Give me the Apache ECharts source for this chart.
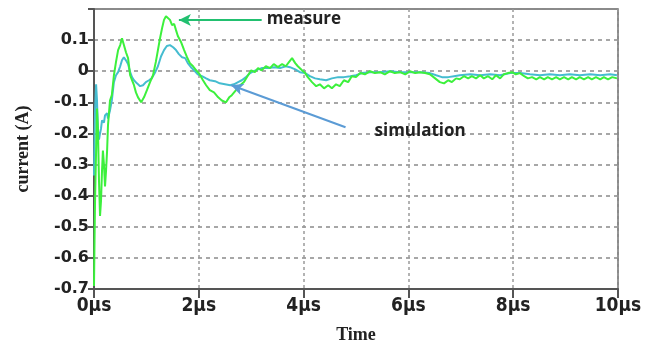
<!DOCTYPE html>
<html><head><meta charset="utf-8">
<script src="https://cdn.jsdelivr.net/npm/echarts@6/dist/echarts.min.js"></script>
<style>html,body{margin:0;padding:0;background:#fff}#c{width:664px;height:342px}</style>
</head><body><div id="c"></div>
<script>
// time in µs, current in A
const measureT = [0,0.01,0.02,0.04,0.057,0.076,0.095,0.115,0.134,0.153,0.17,0.19,0.21,0.23,0.25,0.267,0.305,0.34,0.38,0.42,0.46,0.5,0.534,0.57,0.61,0.65,0.69,0.725,0.763,0.8,0.84,0.9,0.954,1.01,1.07,1.126,1.18,1.22,1.26,1.3,1.336,1.374,1.412,1.45,1.49,1.53,1.565,1.6,1.66,1.72,1.775,1.83,1.89,1.95,2.0,2.08,2.14,2.21,2.29,2.37,2.44,2.52,2.58,2.63,2.71,2.79,2.86,2.94,3.0,3.07,3.13,3.2,3.28,3.36,3.43,3.51,3.59,3.66,3.72,3.78,3.84,3.89,3.97,4.03,4.08,4.16,4.24,4.31,4.39,4.47,4.54,4.62,4.69,4.77,4.85,4.92,5.0,5.08,5.17,5.27,5.36,5.46,5.55,5.65,5.74,5.84,5.94,6.03,6.13,6.22,6.32,6.41,6.51,6.6,6.68,6.76,6.83,6.91,6.98,7.06,7.14,7.21,7.29,7.37,7.44,7.52,7.6,7.67,7.75,7.82,7.9,7.98,8.05,8.13,8.21,8.28,8.36,8.44,8.51,8.59,8.66,8.74,8.82,8.89,8.97,9.05,9.12,9.2,9.27,9.35,9.43,9.5,9.58,9.66,9.73,9.81,9.89,9.98];
const measureV = [-0.69,-0.545,-0.416,-0.255,-0.12,-0.19,-0.35,-0.465,-0.416,-0.32,-0.255,-0.30,-0.37,-0.32,-0.255,-0.174,-0.094,-0.077,-0.013,0.03,0.068,0.084,0.106,0.1,0.061,0.042,-0.013,-0.029,-0.045,-0.068,-0.084,-0.1,-0.084,-0.061,-0.035,-0.013,0.03,0.068,0.106,0.139,0.165,0.177,0.177,0.165,0.148,0.152,0.132,0.113,0.094,0.068,0.045,0.026,0.016,0.003,-0.006,-0.029,-0.045,-0.061,-0.068,-0.084,-0.094,-0.1,-0.084,-0.077,-0.061,-0.045,-0.035,-0.013,0.003,-0.003,0.01,0.003,0.016,0.01,0.023,0.013,0.023,0.016,0.029,0.042,0.026,0.016,0.003,-0.006,-0.019,-0.035,-0.048,-0.042,-0.055,-0.045,-0.055,-0.042,-0.048,-0.029,-0.035,-0.016,-0.019,-0.006,-0.01,0,-0.006,-0.003,-0.01,0,-0.006,-0.003,-0.01,0,-0.006,-0.003,-0.006,-0.01,-0.023,-0.035,-0.039,-0.029,-0.035,-0.023,-0.026,-0.016,-0.023,-0.016,-0.023,-0.013,-0.023,-0.016,-0.026,-0.013,-0.023,-0.01,-0.006,-0.003,-0.01,-0.006,-0.016,-0.023,-0.019,-0.026,-0.019,-0.026,-0.019,-0.026,-0.019,-0.026,-0.019,-0.026,-0.019,-0.026,-0.019,-0.026,-0.019,-0.026,-0.019,-0.026,-0.019,-0.026,-0.019,-0.023];
const simT = [0,0.01,0.02,0.04,0.057,0.076,0.095,0.115,0.134,0.153,0.19,0.21,0.25,0.267,0.305,0.34,0.38,0.42,0.46,0.5,0.534,0.57,0.61,0.65,0.69,0.725,0.763,0.82,0.88,0.935,0.99,1.05,1.1,1.16,1.22,1.28,1.336,1.39,1.45,1.51,1.565,1.62,1.68,1.74,1.79,1.85,1.91,1.98,2.06,2.14,2.21,2.31,2.4,2.5,2.6,2.67,2.75,2.82,2.9,2.98,3.05,3.13,3.2,3.32,3.44,3.55,3.66,3.74,3.84,3.93,4.03,4.12,4.22,4.31,4.43,4.54,4.66,4.77,4.89,5.0,5.11,5.27,5.46,5.65,5.84,6.03,6.22,6.41,6.53,6.64,6.76,6.87,6.98,7.18,7.37,7.56,7.75,7.94,8.13,8.32,8.51,8.7,8.89,9.08,9.27,9.47,9.66,9.85,9.98];
const simV = [-0.335,-0.22,-0.126,-0.042,-0.094,-0.19,-0.22,-0.2,-0.184,-0.158,-0.165,-0.142,-0.135,-0.152,-0.126,-0.094,-0.035,-0.013,-0.003,0.016,0.035,0.045,0.035,0.023,-0.003,-0.019,-0.029,-0.039,-0.048,-0.045,-0.035,-0.029,-0.023,-0.006,0.016,0.048,0.068,0.081,0.084,0.077,0.068,0.055,0.045,0.042,0.026,0.013,0.003,-0.01,-0.016,-0.023,-0.029,-0.032,-0.039,-0.042,-0.045,-0.042,-0.035,-0.029,-0.019,-0.006,0,0.006,0.01,0.01,0.013,0.01,0.016,0.013,0.006,-0.003,-0.006,-0.016,-0.023,-0.026,-0.029,-0.023,-0.019,-0.019,-0.016,-0.013,-0.006,-0.003,-0.003,0,-0.003,-0.003,-0.003,-0.006,-0.013,-0.019,-0.019,-0.016,-0.013,-0.01,-0.013,-0.01,-0.013,-0.006,-0.006,-0.01,-0.013,-0.01,-0.013,-0.01,-0.013,-0.01,-0.013,-0.01,-0.013];
const xTicks = [0,2,4,6,8,10];
const yName = 'current (A)';
const xName = 'Time';
const measureLabel = 'measure';
const simLabel = 'simulation';
// annotation anchors (data coords)
const measureArrow = [[3.2,0.165],[1.62,0.165]];
const simArrow = [[4.8,-0.18],[2.62,-0.045]];

const chart = echarts.init(document.getElementById('c'));
const pair = (t,v)=>t.map((x,i)=>[x,v[i]]);
const axisCol = '#555';
chart.setOption({
  animation:false,
  grid:{left:94,right:46,top:9,bottom:53,show:true,borderColor:'#666',borderWidth:1.5,
    outerBoundsMode:'none',containLabel:false},
  xAxis:{type:'value',min:0,max:10,interval:2,
    name:xName,nameLocation:'middle',nameGap:37,
    nameTextStyle:{fontFamily:'Liberation Serif',fontWeight:'bold',fontSize:18,color:'#222'},
    axisLine:{onZero:false,lineStyle:{color:axisCol,width:2}},
    axisTick:{show:true,length:9,lineStyle:{color:axisCol,width:2}},
    axisLabel:{fontFamily:'DejaVu Sans Condensed',fontWeight:'bold',fontSize:19,color:'#222',margin:8,
      formatter:v=>xTicks.includes(v)?v+'µs':''},
    splitLine:{show:true,lineStyle:{color:'#9a9a9a',type:[3,3],width:1.5}}},
  yAxis:{type:'value',min:-0.7,max:0.2,interval:0.1,
    name:yName,nameLocation:'middle',nameGap:62,
    nameTextStyle:{fontFamily:'Liberation Serif',fontWeight:'bold',fontSize:18,color:'#222'},
    axisLine:{show:true,onZero:false,lineStyle:{color:axisCol,width:2}},
    axisTick:{show:true,length:6,lineStyle:{color:axisCol,width:2}},
    axisLabel:{fontFamily:'DejaVu Sans',fontWeight:'bold',fontSize:16,color:'#222',margin:5,
      formatter:v=>v>0.15?'':(Math.abs(v)<1e-9?'0':v.toFixed(1))},
    splitLine:{show:true,lineStyle:{color:'#8a8a8a',type:[4,4],width:1.5}}},
  series:[
    {type:'line',name:'simulation',data:pair(simT,simV),showSymbol:false,
      lineStyle:{color:'#45bcd0',width:2},z:3,
      markLine:{silent:true,symbol:['none','arrow'],symbolSize:[9,12],
        lineStyle:{color:'#5b9bd5',width:2,type:'solid'},label:{show:false},
        data:[[{coord:simArrow[0]},{coord:simArrow[1]}]]},
      markPoint:{symbol:'circle',symbolSize:0,
        label:{show:true,position:'right',formatter:simLabel,fontFamily:'Open Sans',fontWeight:'bold',fontSize:17,color:'#222',offset:[24,4]},
        data:[{coord:simArrow[0]}]}},
    {type:'line',name:'measure',data:pair(measureT,measureV),showSymbol:false,
      lineStyle:{color:'#3cf03c',width:2},z:4,
      markLine:{silent:true,symbol:['none','arrow'],symbolSize:[9,12],
        lineStyle:{color:'#22c070',width:2,type:'solid'},label:{show:false},
        data:[[{coord:measureArrow[0]},{coord:measureArrow[1]}]]},
      markPoint:{symbol:'circle',symbolSize:0,
        label:{show:true,position:'right',formatter:measureLabel,fontFamily:'Open Sans',fontWeight:'bold',fontSize:17,color:'#222',offset:[0,-1]},
        data:[{coord:measureArrow[0]}]}}
  ]
});
</script></body></html>
